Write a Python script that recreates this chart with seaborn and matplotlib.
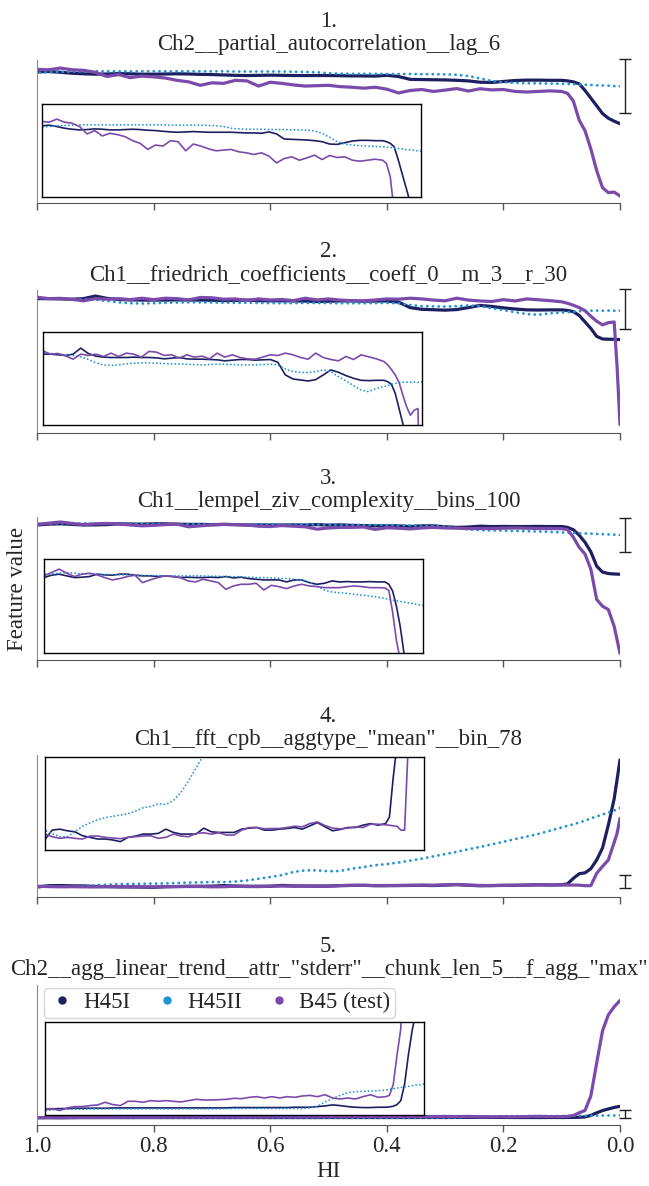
import numpy as np
import pandas as pd
import matplotlib
matplotlib.use("Agg")
import matplotlib.pyplot as plt
import matplotlib.transforms as mtransforms
from matplotlib.lines import Line2D
import seaborn as sns

# ---------------- data ----------------
hi = [1.00, 0.98, 0.96, 0.94, 0.92, 0.90, 0.88, 0.86, 0.84, 0.82,
      0.80, 0.78, 0.76, 0.74, 0.72, 0.70, 0.68, 0.66, 0.64, 0.62,
      0.60, 0.58, 0.56, 0.54, 0.52, 0.50, 0.48, 0.46, 0.44, 0.42,
      0.40, 0.38, 0.36, 0.34, 0.32, 0.30, 0.28, 0.26, 0.24, 0.22,
      0.20, 0.18, 0.16, 0.14, 0.12, 0.10,
      0.09, 0.08, 0.07, 0.06, 0.05, 0.04, 0.03, 0.02, 0.01, 0.005, 0.00]

series_names = ["H45I", "H45II", "B45 (test)"]

titles = ["1.\nCh2__partial_autocorrelation__lag_6",
          "2.\nCh1__friedrich_coefficients__coeff_0__m_3__r_30",
          "3.\nCh1__lempel_ziv_complexity__bins_100",
          '4.\nCh1__fft_cpb__aggtype_"mean"__bin_78',
          '5.\nCh2__agg_linear_trend__attr_"stderr"__chunk_len_5__f_agg_"max"']

xticks = [1.0, 0.8, 0.6, 0.4, 0.2, 0.0]
xticklabels = ["1.0", "0.8", "0.6", "0.4", "0.2", "0.0"]

# panel 1
h45i_1 = [212, 214, 210, 205, 202, 200, 201, 203, 202, 200,
          200, 201, 202, 201, 199, 198, 196, 194, 193, 194,
          195, 194, 193, 193, 193, 193, 192, 191, 191, 190,
          194, 188, 173, 172, 171, 170, 168, 165, 158, 157,
          162, 167, 169, 169, 168, 168,
          165, 160, 150, 115, 75, 35, -5, -30, -45, -52, -58]
h45ii_1 = [208, 210, 212, 213, 214, 215, 215, 215, 215, 215,
           215, 215, 215, 215, 215, 215, 215, 214, 214, 214,
           214, 214, 213, 212, 210, 205, 203, 202, 202, 202,
           201, 201, 201, 200, 200, 199, 197, 190, 178, 165,
           158, 155, 153, 152, 151, 150,
           149, 148, 146, 145, 144, 142, 141, 140, 138, 137, 137]
b45_1 = [225, 223, 232, 223, 220, 210, 188, 198, 182, 190,
         186, 180, 168, 160, 142, 155, 152, 168, 165, 138,
         158, 152, 144, 138, 140, 142, 135, 132, 127, 132,
         122, 102, 115, 120, 110, 117, 125, 112, 124, 118,
         120, 110, 107, 110, 113, 110,
         100, 60, -40, -95, -190, -303, -392, -418, -415, -425, -436]

# panel 2
h45i_2 = [212, 212, 210, 208, 212, 230, 214, 206, 203, 202,
          202, 202, 203, 202, 202, 201, 198, 200, 202, 198,
          197, 197, 196, 195, 192, 194, 196, 196, 194, 195,
          196, 188, 150, 138, 135, 132, 136, 150, 165, 158,
          148, 140, 134, 133, 134, 134,
          130, 122, 95, 50, 5, -50, -68, -70, -70, -72, -72]
h45ii_2 = [217, 214, 212, 210, 208, 204, 196, 186, 180, 178,
           180, 183, 185, 186, 186, 185, 184, 183, 183, 182,
           181, 180, 181, 182, 182, 181, 180, 180, 180, 181,
           182, 180, 168, 160, 158, 157, 160, 165, 160, 145,
           132, 118, 105, 100, 110, 115,
           118, 122, 125, 127, 128, 129, 128, 129, 128, 129, 129]
b45_2 = [222, 212, 214, 207, 197, 212, 208, 212, 205, 215,
         205, 215, 212, 203, 220, 218, 208, 210, 200, 210,
         203, 206, 198, 215, 203, 210, 202, 198, 197, 203,
         210, 208, 215, 210, 202, 197, 215, 202, 196, 192,
         205, 196, 210, 204, 198, 190,
         180, 166, 150, 128, 90, 55, 30, 45, 50, -260, -663]

# panel 3
h45i_3 = [225, 232, 235, 230, 225, 226, 228, 235, 233, 232,
          235, 235, 232, 230, 230, 228, 230, 228, 225, 226,
          225, 225, 226, 225, 228, 224, 226, 222, 220, 218,
          218, 218, 212, 218, 218, 210, 205, 208, 215, 212,
          213, 212, 212, 213, 212, 212,
          205, 185, 140, 80, 0, -120, -170, -182, -186, -187, -188]
h45ii_3 = [235, 236, 238, 240, 238, 236, 236, 235, 234, 234,
           233, 233, 232, 232, 231, 231, 230, 230, 230, 230,
           230, 230, 229, 229, 228, 228, 227, 226, 225, 225,
           224, 223, 222, 220, 218, 212, 200, 188, 182, 180,
           178, 175, 173, 170, 167, 163,
           160, 158, 156, 154, 152, 150, 148, 146, 144, 143, 142]
b45_3 = [230, 240, 250, 238, 228, 235, 238, 233, 225, 218,
         222, 228, 232, 210, 218, 225, 230, 228, 225, 215,
         212, 220, 215, 210, 190, 200, 205, 205, 208, 188,
         202, 198, 192, 200, 205, 200, 198, 195, 195, 195,
         198, 200, 198, 195, 195, 194,
         187, 122, 38, -19, -146, -399, -456, -484, -625, -738, -851]

# panel 4
h45i_4 = [30, 60, 63, 58, 55, 43, 38, 33, 33, 30,
          25, 38, 42, 48, 48, 50, 63, 53, 48, 48,
          48, 66, 55, 53, 53, 53, 63, 66, 68, 60,
          60, 63, 65, 68, 63, 73, 83, 70, 58, 62,
          68, 68, 75, 80, 75, 80,
          100, 220, 320, 340, 430, 620, 880, 1380, 1950, 2370, 2798]
h45ii_4 = [60, 50, 40, 40, 55, 72, 82, 92, 98, 102,
           106, 110, 118, 128, 132, 140, 138, 150, 175, 210,
           250, 290, 359, 394, 394, 373, 380, 430, 465, 507,
           529, 564, 606, 649, 698, 748, 797, 854, 903, 960,
           1016, 1073, 1129, 1186, 1257, 1327,
           1363, 1398, 1434, 1476, 1525, 1568, 1610, 1653, 1695, 1723, 1752]
b45_4 = [48, 40, 35, 38, 35, 33, 42, 42, 38, 36,
         34, 38, 40, 42, 43, 35, 38, 48, 42, 40,
         50, 52, 48, 52, 45, 45, 60, 68, 68, 64,
         65, 65, 68, 72, 70, 80, 85, 74, 66, 64,
         66, 70, 68, 78, 78, 76,
         75, 73, 72, 60, 60, 330, 480, 620, 1000, 1200, 1526]

# panel 5
h45i_5 = [15, 17, 18, 18, 19, 19, 19, 19, 19, 20,
          20, 20, 20, 20, 20, 20, 20, 20, 20, 20,
          20, 20, 20, 20, 20, 21, 21, 21, 21, 21,
          21, 21, 21, 22, 22, 22, 24, 26, 29, 27,
          24, 22, 21, 21, 22, 22,
          23, 25, 30, 42, 92, 180, 255, 310, 360, 380, 398]
h45ii_5 = [12, 14, 15, 16, 16, 16, 17, 17, 17, 17,
           17, 17, 17, 17, 17, 17, 17, 17, 17, 17,
           17, 17, 17, 17, 18, 18, 18, 18, 18, 18,
           18, 18, 18, 18, 18, 20, 25, 38, 48, 58,
           66, 69, 70, 71, 72, 74,
           76, 78, 80, 82, 84, 85, 87, 89, 90, 91, 92]
b45_5 = [17, 18, 12, 20, 24, 24, 27, 29, 37, 30,
         27, 40, 40, 37, 42, 40, 42, 40, 38, 42,
         46, 44, 44, 45, 46, 49, 48, 52, 54, 50,
         54, 50, 54, 52, 56, 58, 54, 60, 50, 47,
         50, 47, 54, 60, 52, 54,
         58, 90, 180, 260, 750, 1856, 2936, 3476, 3746, 3854, 3962]

panels = [(h45i_1, h45ii_1, b45_1), (h45i_2, h45ii_2, b45_2),
          (h45i_3, h45ii_3, b45_3), (h45i_4, h45ii_4, b45_4),
          (h45i_5, h45ii_5, b45_5)]

# axis ranges (feature units) for main panels and zoomed insets
main_ylims = [(-472, 274), (-721, 272), (-907, 292), (-186, 2904), (-230, 4480)]
inset_ylims = [(0, 278), (0, 277), (0, 280), (0, 283), (0, 280)]

# ---------------- style ----------------
colors = {"H45I": "#1d2060", "H45II": "#2192d6", "B45 (test)": "#7b4bab"}

sns.set_style("ticks")
plt.rcParams["font.family"] = ["Liberation Serif", "DejaVu Serif"]
plt.rcParams["lines.solid_capstyle"] = "round"
plt.rcParams["lines.dash_capstyle"] = "round"
plt.rcParams["lines.solid_joinstyle"] = "round"

FS = 16.5
W, H = 649, 1186
tops = [60, 290, 517, 755, 985]
bottoms = [203, 433, 660, 897, 1125]
inset_pos = [[0.008, 0.040, 0.65, 0.655],
             [0.010, 0.054, 0.65, 0.650],
             [0.012, 0.047, 0.65, 0.659],
             [0.013, 0.332, 0.65, 0.655],
             [0.013, 0.075, 0.65, 0.660]]

fig = plt.figure(figsize=(W / 100, H / 100), dpi=100)


def draw_series(ax, vals_triplet, main=True):
    for name, vals in zip(series_names, vals_triplet):
        if name == "H45II":
            lw = 2.0 if main else 1.3
            ls = (0, (0.05, 2.0))
        else:
            lw = 2.3 if main else 1.2
            ls = "-"
        sns.lineplot(x=hi, y=vals, color=colors[name], linewidth=lw,
                     linestyle=ls, estimator=None, ax=ax, legend=False)


for i, (trip, title) in enumerate(zip(panels, titles)):
    top, bot = tops[i], bottoms[i]
    ax = fig.add_axes([37 / W, 1 - bot / H, 583 / W, (bot - top) / H])
    draw_series(ax, trip, main=True)
    ax.set_xlim(1.0, 0.0)
    ax.set_ylim(*main_ylims[i])
    ax.set_yticks([])
    ax.set_xticks(xticks)
    if i == 4:
        ax.set_xticklabels(xticklabels, fontsize=FS)
        ax.set_xlabel("HI", fontsize=FS, labelpad=3)
    else:
        ax.set_xticklabels([])
        ax.set_xlabel("")
    ax.set_ylabel("")
    sns.despine(ax=ax)
    ax.spines["left"].set_color("#8a8a8a")
    ax.spines["bottom"].set_color("#555555")
    ax.tick_params(axis="x", length=5, width=1, color="#555555", pad=3)
    ax.set_title(title, fontsize=FS, pad=7, linespacing=1.15)

    # zoomed inset
    axi = ax.inset_axes(inset_pos[i])
    draw_series(axi, trip, main=False)
    axi.set_xlim(1.0, 0.0)
    axi.set_ylim(*inset_ylims[i])
    axi.set_xticks([])
    axi.set_yticks([])
    axi.set_xlabel("")
    axi.set_ylabel("")
    for s in axi.spines.values():
        s.set_visible(True)
        s.set_color("black")
        s.set_linewidth(1.0)

    # range bar showing the inset's zoom window
    trans = mtransforms.blended_transform_factory(ax.transAxes, ax.transData)
    lo, hiv = inset_ylims[i]
    ax.plot([1.008, 1.008], [lo, hiv], color="#222222", lw=1.0,
            marker="_", markersize=9, mew=1.0, transform=trans, clip_on=False)

    if i == 4:
        handles = [Line2D([], [], marker="o", ls="", color=colors[n],
                          markersize=5) for n in series_names]
        ax.legend(handles, series_names, loc="upper left", ncol=3,
                  fontsize=FS, frameon=True, handletextpad=0.3,
                  columnspacing=1.0, borderaxespad=0.3, handlelength=1.2,
                  borderpad=0.2, bbox_to_anchor=(0.0, 1.03))

fig.text(18 / W, 0.503, "Feature value", rotation=90, va="center",
         ha="center", fontsize=FS)

fig.savefig("out.png", dpi=100)
